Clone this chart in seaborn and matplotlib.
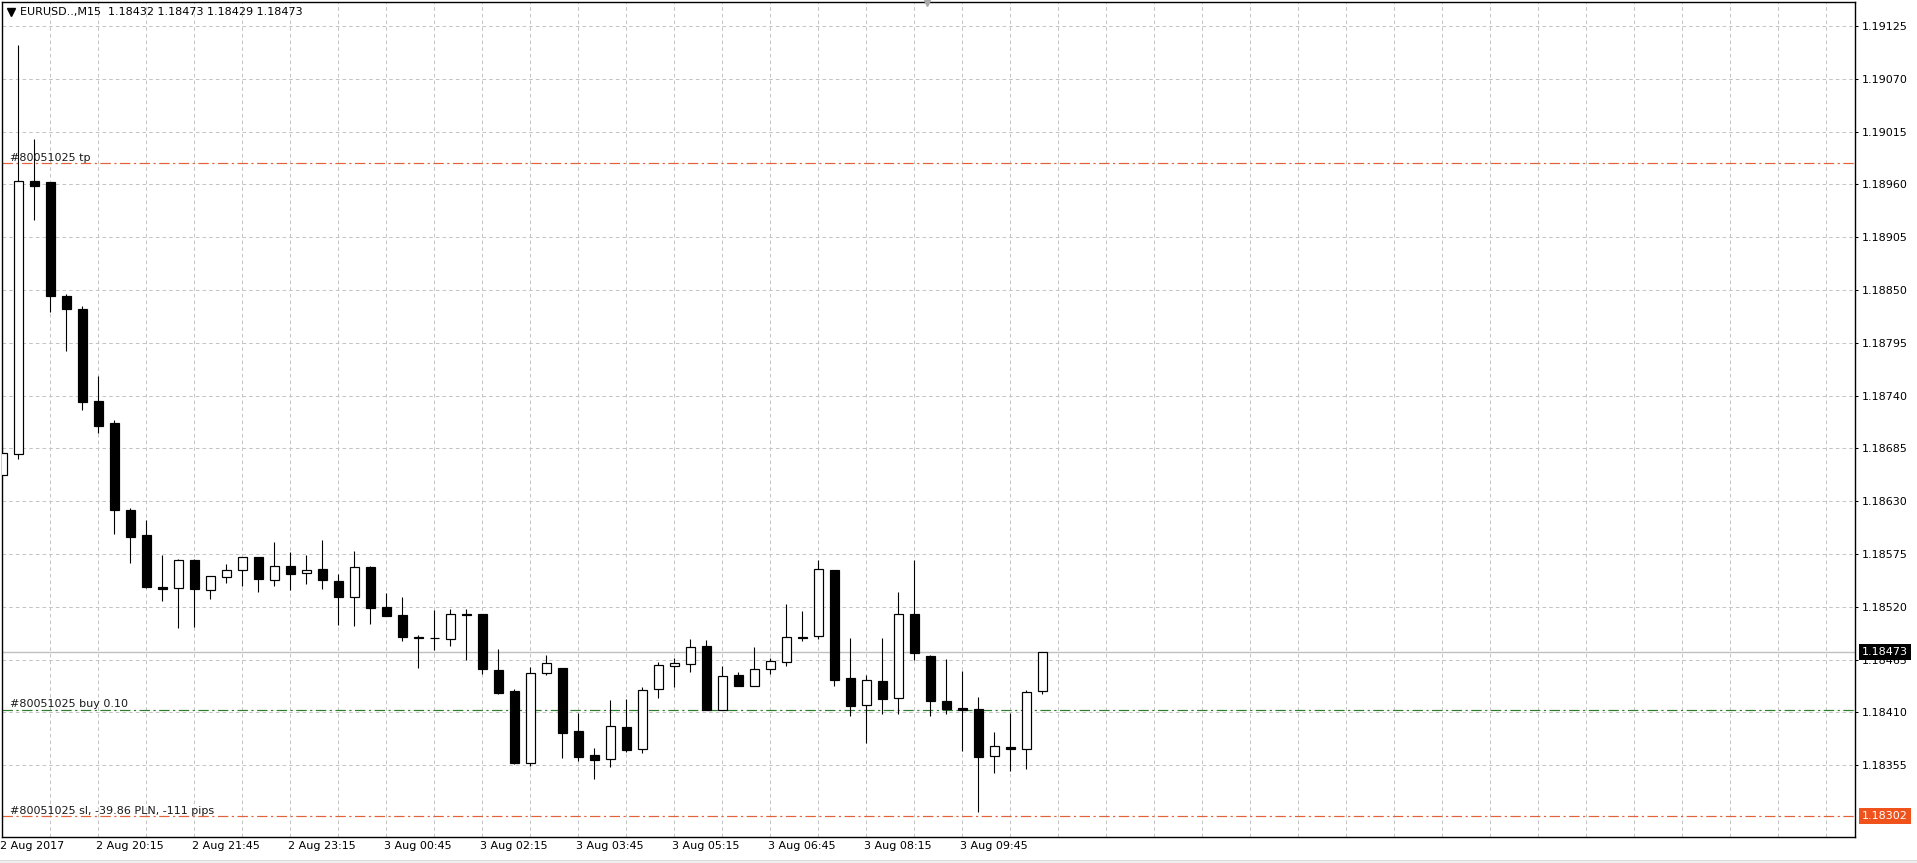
import numpy as np
import pandas as pd
import matplotlib
matplotlib.use("Agg")
import matplotlib.pyplot as plt
import matplotlib.transforms as mtransforms
from matplotlib.patches import Rectangle
import seaborn as sns

# ---------------- data ----------------
header_text = "EURUSD..,M15  1.18432 1.18473 1.18429 1.18473"

opens = [1.18657, 1.18679, 1.18964, 1.18963, 1.18844, 1.18830, 1.18734, 1.18711, 1.18621, 1.18595,
         1.18541, 1.18540, 1.18569, 1.18538, 1.18551, 1.18558, 1.18572, 1.18548, 1.18563, 1.18555,
         1.18559, 1.18547, 1.18530, 1.18561, 1.18520, 1.18511, 1.18489, 1.18488, 1.18486, 1.18513,
         1.18512, 1.18454, 1.18432, 1.18357, 1.18451, 1.18456, 1.18391, 1.18366, 1.18361, 1.18395,
         1.18372, 1.18434, 1.18458, 1.18460, 1.18479, 1.18413, 1.18449, 1.18438, 1.18455, 1.18463,
         1.18489, 1.18490, 1.18558, 1.18446, 1.18418, 1.18443, 1.18425, 1.18512, 1.18469, 1.18422,
         1.18415, 1.18414, 1.18365, 1.18374, 1.18372, 1.18432]
highs = [1.18691, 1.19105, 1.19007, 1.18963, 1.18846, 1.18833, 1.18760, 1.18715, 1.18623, 1.18610,
         1.18574, 1.18570, 1.18570, 1.18552, 1.18565, 1.18572, 1.18572, 1.18588, 1.18577, 1.18574,
         1.18590, 1.18554, 1.18578, 1.18562, 1.18534, 1.18530, 1.18491, 1.18517, 1.18518, 1.18518,
         1.18512, 1.18476, 1.18434, 1.18457, 1.18470, 1.18456, 1.18409, 1.18373, 1.18423, 1.18424,
         1.18436, 1.18463, 1.18467, 1.18486, 1.18485, 1.18458, 1.18452, 1.18478, 1.18467, 1.18523,
         1.18516, 1.18569, 1.18558, 1.18487, 1.18449, 1.18487, 1.18535, 1.18569, 1.18470, 1.18466,
         1.18453, 1.18426, 1.18390, 1.18409, 1.18433, 1.18473]
lows = [1.18652, 1.18674, 1.18923, 1.18827, 1.18786, 1.18725, 1.18701, 1.18596, 1.18566, 1.18540,
        1.18526, 1.18498, 1.18499, 1.18528, 1.18545, 1.18542, 1.18535, 1.18542, 1.18537, 1.18544,
        1.18539, 1.18501, 1.18500, 1.18502, 1.18510, 1.18484, 1.18456, 1.18475, 1.18479, 1.18465,
        1.18450, 1.18429, 1.18356, 1.18354, 1.18449, 1.18363, 1.18359, 1.18341, 1.18353, 1.18369,
        1.18368, 1.18425, 1.18436, 1.18452, 1.18412, 1.18412, 1.18437, 1.18438, 1.18450, 1.18458,
        1.18484, 1.18486, 1.18438, 1.18406, 1.18378, 1.18408, 1.18408, 1.18465, 1.18406, 1.18408,
        1.18370, 1.18306, 1.18347, 1.18349, 1.18351, 1.18429]
closes = [1.18680, 1.18964, 1.18958, 1.18844, 1.18830, 1.18733, 1.18708, 1.18621, 1.18593, 1.18541,
          1.18539, 1.18569, 1.18539, 1.18552, 1.18558, 1.18572, 1.18549, 1.18563, 1.18554, 1.18558,
          1.18548, 1.18530, 1.18561, 1.18519, 1.18510, 1.18489, 1.18487, 1.18487, 1.18512, 1.18511,
          1.18455, 1.18430, 1.18357, 1.18451, 1.18461, 1.18389, 1.18364, 1.18360, 1.18396, 1.18371,
          1.18433, 1.18459, 1.18461, 1.18478, 1.18413, 1.18448, 1.18437, 1.18455, 1.18464, 1.18489,
          1.18487, 1.18559, 1.18444, 1.18417, 1.18444, 1.18424, 1.18513, 1.18472, 1.18422, 1.18414,
          1.18413, 1.18364, 1.18375, 1.18372, 1.18431, 1.18473]

bar_times = pd.date_range("2017-08-02 18:45", periods=len(opens), freq="15min")

tick_times = ["2017-08-02 18:45", "2017-08-02 20:15", "2017-08-02 21:45", "2017-08-02 23:15",
              "2017-08-03 00:45", "2017-08-03 02:15", "2017-08-03 03:45", "2017-08-03 05:15",
              "2017-08-03 06:45", "2017-08-03 08:15", "2017-08-03 09:45"]
tick_labels = ["2 Aug 2017", "2 Aug 20:15", "2 Aug 21:45", "2 Aug 23:15", "3 Aug 00:45",
               "3 Aug 02:15", "3 Aug 03:45", "3 Aug 05:15", "3 Aug 06:45", "3 Aug 08:15",
               "3 Aug 09:45"]

price_ticks = [1.18355, 1.18410, 1.18465, 1.18520, 1.18575, 1.18630, 1.18685, 1.18740,
               1.18795, 1.18850, 1.18905, 1.18960, 1.19015, 1.19070, 1.19125]

tp_price = 1.18982
buy_price = 1.18413
sl_price = 1.18302
last_price = 1.18473
order_names = ["#80051025 tp", "#80051025 buy 0.10", "#80051025 sl, -39.86 PLN, -111 pips"]
order_prices = [tp_price, buy_price, sl_price]

# ---------------- style ----------------
sns.set_theme(style="white")
plt.rcParams["font.family"] = ["DejaVu Sans"]
plt.rcParams["lines.scale_dashes"] = False

W, H = 1917, 863
fig = plt.figure(figsize=(W / 100, H / 100), dpi=100)
fig.patch.set_facecolor("white")
ax_left, ax_right, ax_top, ax_bot = 2, 1855, 2, 837
ax = fig.add_axes([ax_left / W, (H - ax_bot) / H, (ax_right - ax_left) / W, (ax_bot - ax_top) / H])
ax.set_facecolor("white")

PX = 0.72  # one pixel in points

df = pd.DataFrame({"time": bar_times, "open": opens, "high": highs, "low": lows, "close": closes})
df["x"] = np.arange(len(df))
df["bull"] = df["close"] > df["open"]

# limits
ax.set_xlim(-0.02, 115.8)
ax.set_ylim(1.182802, 1.191500)

# grid
grid_style = dict(color="#c4c4c4", linestyle=(0, (2.6, 2.2)), linewidth=PX)
ax.set_yticks(price_ticks)
ax.set_yticklabels([f"{p:.5f}" for p in price_ticks])
ax.yaxis.tick_right()
ax.grid(axis="y", which="major", **grid_style)

time_pos = {t: i for i, t in enumerate(df["time"])}
major_x = [time_pos[pd.Timestamp(t)] for t in tick_times]
ax.set_xticks(major_x)
ax.set_xticklabels(tick_labels)
ax.set_xticks(np.arange(3, 116, 3), minor=True)
ax.grid(axis="x", which="both", **grid_style)
for lab in ax.get_xticklabels():
    lab.set_horizontalalignment("left")
ax.tick_params(axis="x", which="both", length=0, pad=3, labelsize=8, colors="black")
ax.tick_params(axis="y", which="major", length=3 * PX, width=PX, pad=3.5 * PX * 1.0,
               labelsize=8, colors="black", direction="out")
for lab in ax.get_xticklabels():
    lab.set_transform(lab.get_transform() + mtransforms.ScaledTranslation(-2 / 100, 0, fig.dpi_scale_trans))

for sp in ax.spines.values():
    sp.set_color("black")
    sp.set_linewidth(1.0 * PX * 1.4)

# current price line
ax.axhline(last_price, color="#c0c0c0", linewidth=1.4 * PX, zorder=1.5)

# order lines
order_colors = ["#e2623a", "#2f7d2f", "#e2623a"]
blend = mtransforms.blended_transform_factory(ax.transAxes, ax.transData)
for name, price, col in zip(order_names, order_prices, order_colors):
    ax.axhline(price, color=col, linewidth=PX * 1.2, linestyle=(0, (7.5, 2.5, 1.6, 2.5)), zorder=1.6)
    ax.annotate(name, xy=(8 / 1853, price), xycoords=blend, xytext=(0, 1.8),
                textcoords="offset points", ha="left", va="baseline", fontsize=8,
                color="#1a1a1a", zorder=4)

# candles: wicks then bodies
ax.vlines(df["x"], df["low"], df["high"], color="black", linewidth=PX * 1.1, zorder=2)
body_bottom = np.minimum(df["open"], df["close"])
body_height = np.abs(df["close"] - df["open"])
ax.bar(df["x"], body_height, bottom=body_bottom, width=0.56,
       color=np.where(df["bull"], "white", "black"), edgecolor="black",
       linewidth=PX * 1.2, zorder=3)

# price boxes on the right axis
ax.text(1.0 + 7 / 1853, last_price, f"{last_price:.5f}", transform=blend, ha="left", va="center",
        fontsize=8, color="white", clip_on=False, zorder=6,
        bbox=dict(boxstyle="square,pad=0.28", fc="black", ec="none"))
ax.text(1.0 + 7 / 1853, sl_price, f"{sl_price:.5f}", transform=blend, ha="left", va="center",
        fontsize=8, color="white", clip_on=False, zorder=6,
        bbox=dict(boxstyle="square,pad=0.28", fc="#f0521c", ec="none"))

# header
ax.plot([8.5 / 1853], [1 - 10 / 835], marker="v", color="black", markersize=5.5,
        transform=ax.transAxes, clip_on=False, zorder=6)
ax.text(18 / 1853, 1 - 9.5 / 835, header_text, transform=ax.transAxes, ha="left", va="center",
        fontsize=8, color="black", zorder=6)

# chart shift marker
ax.plot([925 / 1853], [1 - 1.5 / 835], marker="v", color="#a8a8a8", markersize=5,
        transform=ax.transAxes, clip_on=False, zorder=6)

# bottom strip
fig.patches.append(Rectangle((0, 0), 1, 3 / H, transform=fig.transFigure,
                             facecolor="#efefef", edgecolor="none"))
fig.lines.append(plt.Line2D([0, 1], [3 / H, 3 / H], transform=fig.transFigure,
                            color="#dadada", linewidth=PX))

fig.savefig("out.png", dpi=100, facecolor="white")
